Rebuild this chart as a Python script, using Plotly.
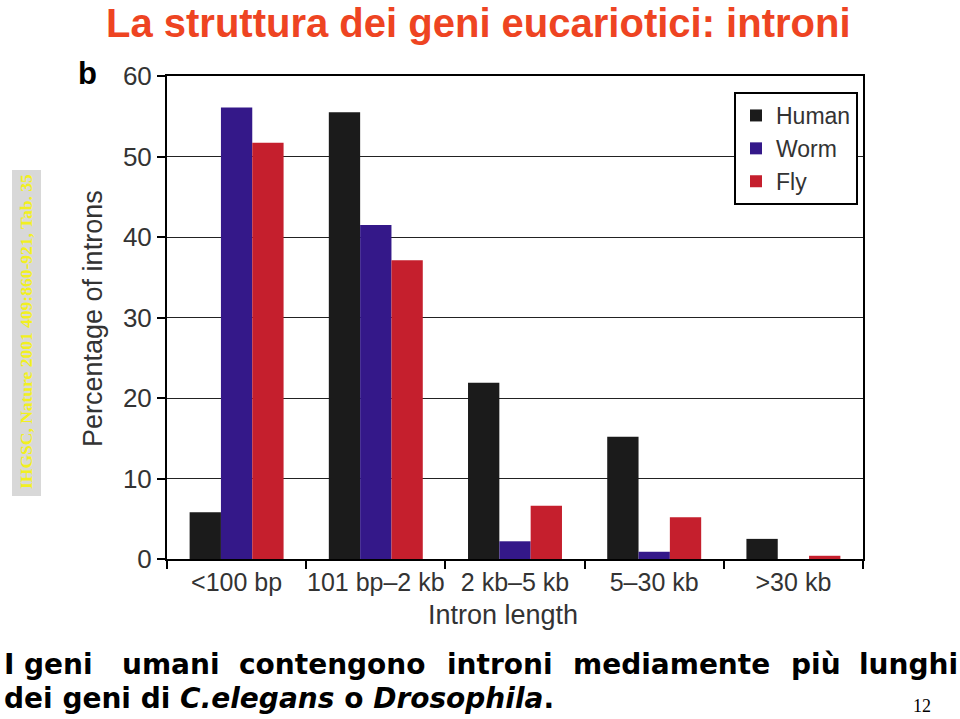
import plotly.graph_objects as go

categories = ["<100 bp", "101 bp\u20132 kb", "2 kb\u20135 kb", "5\u201330 kb", ">30 kb"]
human = [5.8, 55.5, 21.9, 15.2, 2.5]
worm = [56.1, 41.5, 2.2, 0.9, 0.0]
fly = [51.7, 37.1, 6.6, 5.2, 0.4]
y_ticks = [0, 10, 20, 30, 40, 50, 60]

W, H = 960, 719
L, R, T, B = 167, 863, 76, 559

def px(x):
    return (x - L) / (R - L)

def py(y):
    return (B - y) / (B - T)

fig = go.Figure()
fig.add_trace(go.Bar(name="Human", x=categories, y=human, marker=dict(color="#1b1b1b", line=dict(width=0))))
fig.add_trace(go.Bar(name="Worm", x=categories, y=worm, marker=dict(color="#341889", line=dict(width=0))))
fig.add_trace(go.Bar(name="Fly", x=categories, y=fly, marker=dict(color="#c51f2d", line=dict(width=0))))

axis_font = dict(family="Liberation Sans, Arial", size=25, color="#333333")

fig.update_layout(
    width=W, height=H,
    margin=dict(l=L, r=W - R, t=T, b=H - B),
    paper_bgcolor="white", plot_bgcolor="white",
    barmode="group", bargap=0.325, bargroupgap=0,
    showlegend=True,
    legend=dict(
        x=px(734), y=py(92), xanchor="left", yanchor="top",
        bgcolor="white", bordercolor="black", borderwidth=2,
        font=dict(family="Liberation Sans, Arial", size=23, color="#333333"),
        tracegroupgap=0, itemsizing="constant",
    ),
    xaxis=dict(
        showline=True, linecolor="black", linewidth=2, mirror=True,
        ticks="outside", ticklen=8, tickwidth=2, tickcolor="black",
        tickson="boundaries", tickfont=axis_font, tickangle=0, showgrid=False,
    ),
    yaxis=dict(
        range=[0, 60], tickvals=y_ticks, showline=True, linecolor="black", linewidth=2, mirror=True,
        ticks="outside", ticklen=8, tickwidth=2, tickcolor="black",
        tickfont=dict(family="Liberation Sans, Arial", size=26, color="#333333"),
        showgrid=True, gridcolor="#222222", gridwidth=1,
        zeroline=False,
    ),
)

annotations = [
    dict(text="<b>La struttura dei geni eucariotici: introni</b>", x=px(478), y=py(23),
         xanchor="center", yanchor="middle",
         font=dict(family="Liberation Sans, Arial", size=40, color="#ee4422")),
    dict(text="<b>b</b>", x=px(87), y=py(73), xanchor="center", yanchor="middle",
         font=dict(family="Liberation Sans, Arial", size=31, color="black")),
    dict(text="Percentage of introns", x=px(93), y=py(319), xanchor="center", yanchor="middle",
         textangle=-90, font=dict(family="Liberation Sans, Arial", size=27, color="#333333")),
    dict(text="Intron length", x=px(503), y=py(615), xanchor="center", yanchor="middle",
         font=dict(family="Liberation Sans, Arial", size=27, color="#333333")),
    dict(text="<b>IHGSC, Nature 2001 409:860-921, Tab. 35</b>", x=px(26), y=py(332),
         xanchor="center", yanchor="middle", textangle=-90,
         font=dict(family="Liberation Serif, Times New Roman", size=17.5, color="#f2f020")),
    dict(text="<b>dei geni di <i>C.elegans</i> o <i>Drosophila</i>.</b>", x=px(2), y=py(698),
         xanchor="left", yanchor="middle",
         font=dict(family="DejaVu Sans", size=28, color="black")),
    dict(text="12", x=px(922), y=py(706), xanchor="center", yanchor="middle",
         font=dict(family="Liberation Serif, Times New Roman", size=18, color="black")),
]

words = ["I", "geni", "umani", "contengono", "introni", "mediamente", "più", "lunghi"]
word_x = [2, 22, 120, 237, 445, 571, 789, 857]
for w, wx in zip(words, word_x):
    annotations.append(dict(text="<b>" + w + "</b>", x=px(wx), y=py(664), xanchor="left", yanchor="middle",
                            font=dict(family="DejaVu Sans", size=28, color="black")))

for a in annotations:
    a.update(xref="paper", yref="paper", showarrow=False)
fig.update_layout(annotations=annotations)

fig.add_shape(type="rect", xref="paper", yref="paper", x0=px(12), x1=px(41), y0=py(170), y1=py(496),
              fillcolor="#d8d8d8", line=dict(width=0), layer="below")

fig.write_html("out.html")
